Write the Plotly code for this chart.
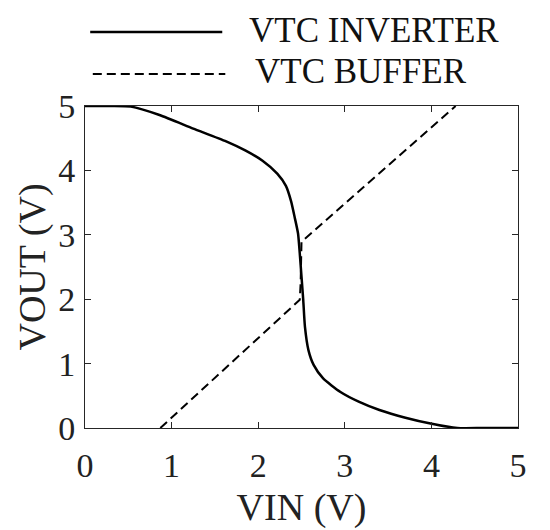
import plotly.graph_objects as go

# inverter transfer curve
vin_inv = [0, 0.30, 0.53, 0.86, 1.25, 1.63, 1.85, 2.05, 2.22, 2.32, 2.38, 2.42, 2.46, 2.48,
           2.50, 2.52, 2.54, 2.58, 2.64, 2.75, 2.95, 3.16, 3.40, 3.70, 3.99, 4.30, 4.60, 5.0]
vout_inv = [5, 5, 4.99, 4.86, 4.65, 4.45, 4.31, 4.15, 3.95, 3.76, 3.52, 3.28, 3.02, 2.71,
            2.35, 1.99, 1.57, 1.21, 0.98, 0.77, 0.56, 0.41, 0.28, 0.16, 0.07, 0.0, 0.0, 0.0]

# buffer transfer curve
vin_buf = [0.87, 2.48, 2.49, 2.495, 2.50, 4.28]
vout_buf = [0.0, 1.99, 2.25, 2.60, 2.89, 5.0]

ticks = [0, 1, 2, 3, 4, 5]
font = "Liberation Serif, Times New Roman, serif"
axis_col = "#262626"

fig = go.Figure()
fig.add_trace(go.Scatter(x=vin_inv, y=vout_inv, mode="lines", name="VTC INVERTER",
                         line=dict(color="black", width=2.5, shape="spline", smoothing=0.6)))
fig.add_trace(go.Scatter(x=vin_buf, y=vout_buf, mode="lines", name="VTC BUFFER",
                         line=dict(color="black", width=2, dash="9px,5px")))

axis_common = dict(range=[0, 5], tickvals=ticks, ticks="inside", ticklen=6, tickcolor=axis_col,
                   showline=True, linecolor=axis_col, linewidth=1, mirror="ticks",
                   showgrid=False, zeroline=False, automargin=False,
                   tickfont=dict(size=34, color="#222"),
                   title_font=dict(size=38, color="#222"))
fig.update_xaxes(title_text="VIN (V)", title_standoff=10, ticklabelstandoff=7, **axis_common)
fig.update_yaxes(title_text="VOUT (V)", title_standoff=0, ticklabelstandoff=2, **axis_common)

# hand-drawn legend above the axes
fig.add_shape(type="line", xref="paper", yref="paper", x0=0.012, x1=0.317, y0=1.230, y1=1.230,
              line=dict(color="black", width=2.5))
fig.add_shape(type="line", xref="paper", yref="paper", x0=0.018, x1=0.324, y0=1.099, y1=1.099,
              line=dict(color="black", width=2, dash="9px,5px"))
fig.add_annotation(text="VTC INVERTER", xref="paper", yref="paper", x=0.375, y=1.236,
                   xanchor="left", yanchor="middle", showarrow=False, font=dict(size=35, color="#111"))
fig.add_annotation(text="VTC BUFFER", xref="paper", yref="paper", x=0.388, y=1.108,
                   xanchor="left", yanchor="middle", showarrow=False, font=dict(size=35, color="#111"))

# page body adds ~8px offset, margins compensate
fig.update_layout(width=550, height=530, showlegend=False,
                  margin=dict(l=77, r=40, t=98, b=110),
                  plot_bgcolor="white", paper_bgcolor="white",
                  font=dict(family=font, color="#222"))
fig.write_html("out.html")
